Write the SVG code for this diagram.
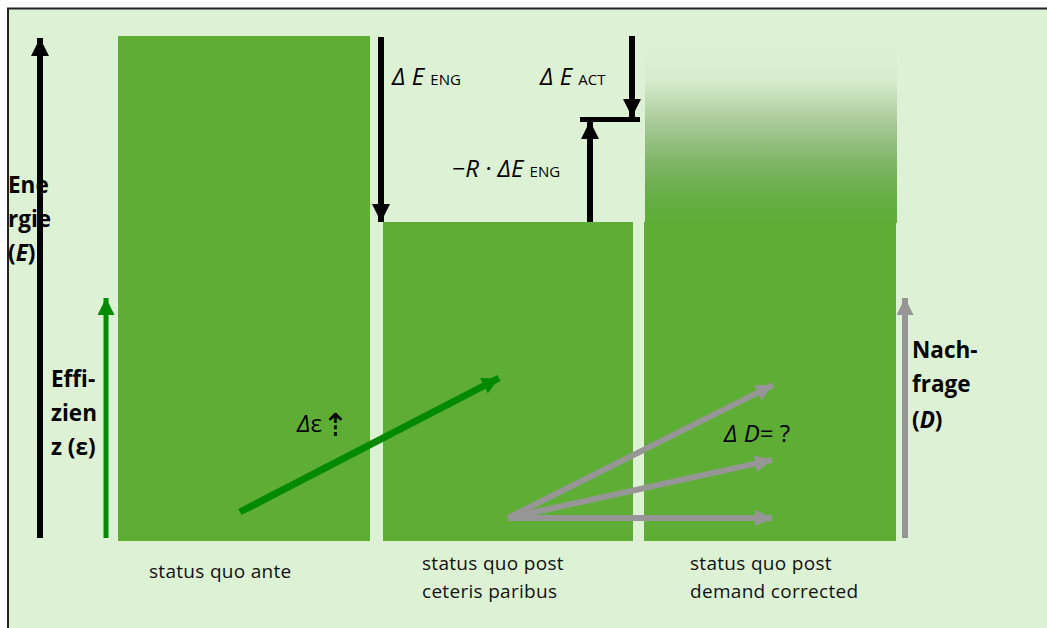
<svg xmlns="http://www.w3.org/2000/svg" width="1047" height="628" viewBox="0 0 1047 628">
<defs>
<style>
.bar{fill:#5ead35}
.lbl{font-family:"Open Sans","Liberation Sans",sans-serif;font-size:19px;letter-spacing:0.3px;fill:#111}
.ax{font-family:"Open Sans","Liberation Sans",sans-serif;font-size:22.5px;font-weight:bold;fill:#000}
.math{font-family:"Open Sans","DejaVu Sans",sans-serif;font-size:24px;fill:#000}
.sub{font-size:15px;font-style:normal}
.blk{stroke:#000;stroke-width:6;fill:none}
.grn{stroke:#008a00;fill:none}
.gry{stroke:#969696;stroke-width:6;fill:none}
</style>
<marker id="hb" viewBox="0 0 18 18" refX="18" refY="9" markerWidth="18" markerHeight="18" markerUnits="userSpaceOnUse" orient="auto"><path d="M0,0 L18,9 L0,18 z" fill="#000"/></marker>
<marker id="hg" viewBox="0 0 17 17" refX="17" refY="8.5" markerWidth="17" markerHeight="17" markerUnits="userSpaceOnUse" orient="auto"><path d="M0,0 L17,8.5 L0,17 z" fill="#008a00"/></marker>
<marker id="hgr" viewBox="0 0 17 17" refX="17" refY="8.5" markerWidth="17" markerHeight="17" markerUnits="userSpaceOnUse" orient="auto"><path d="M0,0 L17,8.5 L0,17 z" fill="#969696"/></marker>
<linearGradient id="fade" x1="0" y1="0" x2="0" y2="1">
<stop offset="0" stop-color="#ddf1d5"/>
<stop offset="0.2" stop-color="#d7eccd"/>
<stop offset="0.45" stop-color="#a6c894"/>
<stop offset="0.65" stop-color="#80b668"/>
<stop offset="0.85" stop-color="#66ae45"/>
<stop offset="1" stop-color="#5ead35"/>
</linearGradient>
</defs>
<rect x="0" y="0" width="1047" height="628" fill="#fff"/>
<rect x="8" y="9" width="1039" height="619" fill="#ddf1d5"/>
<path d="M8,628 V8.5 H1047" stroke="#222" stroke-width="2" fill="none"/>

<g id="bar-ante"><rect class="bar" x="118" y="36" width="252" height="505"/></g>
<g id="bar-ceteris"><rect class="bar" x="383" y="222" width="250" height="319"/></g>
<g id="bar-corrected">
<rect x="645" y="45" width="252" height="178" fill="url(#fade)"/>
<rect class="bar" x="644" y="222" width="252" height="319"/>
</g>

<g id="label-energie">
<text class="ax" x="8" y="193">Ene</text>
<text class="ax" x="8" y="227">rgie</text>
<text class="ax" x="8" y="261">(<tspan font-style="italic">E</tspan>)</text>
</g>

<g id="connectors">
<line class="blk" x1="40" y1="538" x2="40" y2="38" marker-end="url(#hb)"/>
<line class="grn" stroke-width="5" x1="106" y1="538" x2="106" y2="298" marker-end="url(#hg)"/>
<line class="gry" x1="905" y1="538" x2="905" y2="298" marker-end="url(#hgr)"/>
<line class="blk" x1="381" y1="37" x2="381" y2="222" marker-end="url(#hb)"/>
<line class="blk" x1="632" y1="36" x2="632" y2="117" marker-end="url(#hb)"/>
<line stroke="#000" stroke-width="5" x1="580" y1="119.5" x2="640" y2="119.5"/>
<line class="blk" x1="590" y1="222" x2="590" y2="121" marker-end="url(#hb)"/>
<line class="grn" stroke-width="7" x1="240" y1="512" x2="499" y2="378" marker-end="url(#hg)"/>
<line class="gry" x1="508" y1="518" x2="773" y2="385" marker-end="url(#hgr)"/>
<line class="gry" x1="508" y1="518" x2="772" y2="460" marker-end="url(#hgr)"/>
<line class="gry" x1="508" y1="518" x2="772" y2="518" marker-end="url(#hgr)"/>
</g>

<g id="label-effizienz">
<text class="ax" x="51" y="387">Effi-</text>
<text class="ax" x="51" y="421">zien</text>
<text class="ax" x="51" y="455">z (ε)</text>
</g>
<g id="label-nachfrage">
<text class="ax" x="912" y="358">Nach-</text>
<text class="ax" x="912" y="392">frage</text>
<text class="ax" x="912" y="428">(<tspan font-style="italic">D</tspan>)</text>
</g>

<g id="label-deng"><text class="math" x="392" y="85" font-style="italic">Δ E <tspan class="sub">ENG</tspan></text></g>
<g id="label-dact"><text class="math" x="540" y="85" font-style="italic">Δ E <tspan class="sub">ACT</tspan></text></g>
<g id="label-rebound"><text class="math" x="452" y="177" font-style="italic">−R · ΔE <tspan class="sub">ENG</tspan></text></g>
<g id="label-deps"><text class="math" x="297" y="432"><tspan font-style="italic">Δ</tspan>ε<tspan font-family="DejaVu Sans" font-size="32" dy="4">⇡</tspan></text></g>
<g id="label-dd"><text class="math" x="724" y="442"><tspan font-style="italic">Δ D</tspan>= ?</text></g>

<g id="caption-ante"><text class="lbl" x="149" y="578">status quo ante</text></g>
<g id="caption-ceteris">
<text class="lbl" x="422" y="570">status quo post</text>
<text class="lbl" x="422" y="598">ceteris paribus</text>
</g>
<g id="caption-corrected">
<text class="lbl" x="690" y="570">status quo post</text>
<text class="lbl" x="690" y="598">demand corrected</text>
</g>
</svg>
